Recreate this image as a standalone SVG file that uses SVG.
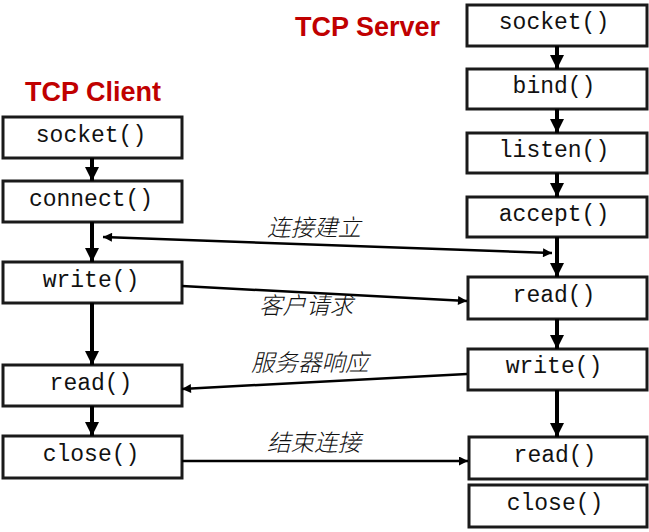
<svg xmlns="http://www.w3.org/2000/svg" width="649" height="532" viewBox="0 0 649 532">
<style>
.box rect{fill:#fff;stroke:#1a1a1a;stroke-width:3}
.box text{font-family:"Liberation Mono","Courier New",monospace;font-size:23px;fill:#111;text-anchor:middle}
.title{font-family:"Liberation Sans",Arial,sans-serif;font-weight:bold;font-size:27px;fill:#c00000}
.lbl{font-family:"Liberation Serif","Noto Sans CJK SC",sans-serif;font-style:italic;font-size:23.5px;font-weight:300;fill:#111}
.v{stroke:#000;stroke-width:4;fill:none;marker-end:url(#big)}
.h{stroke:#000;stroke-width:2.5;fill:none;marker-end:url(#small)}
</style>
<defs>
<marker id="big" viewBox="0 0 10 10" refX="10" refY="5" markerWidth="3.5" markerHeight="3.5" orient="auto" markerUnits="strokeWidth"><path d="M0,0L10,5L0,10z" fill="#000"/></marker>
<marker id="small" viewBox="0 0 10 10" refX="10" refY="5" markerWidth="4.5" markerHeight="3.6" orient="auto" markerUnits="strokeWidth"><path d="M0,0L10,5L0,10z" fill="#000"/></marker>
<marker id="smallStart" viewBox="0 0 10 10" refX="0" refY="5" markerWidth="4.5" markerHeight="3.6" orient="auto" markerUnits="strokeWidth"><path d="M10,0L0,5L10,10z" fill="#000"/></marker>
</defs>
<text class="title" x="295" y="36">TCP Server</text>
<text class="title" x="25" y="101">TCP Client</text>

<g id="c-socket" class="box"><rect x="3" y="117" width="179" height="41"/><text x="91" y="142">socket()</text></g>
<g id="c-connect" class="box"><rect x="3" y="181" width="179" height="41"/><text x="91" y="206">connect()</text></g>
<g id="c-write" class="box"><rect x="3" y="262" width="179" height="41"/><text x="91" y="287">write()</text></g>
<g id="c-read" class="box"><rect x="3" y="365" width="179" height="41"/><text x="91" y="390">read()</text></g>
<g id="c-close" class="box"><rect x="3" y="436" width="179" height="42"/><text x="91" y="461">close()</text></g>

<g id="s-socket" class="box"><rect x="467" y="5" width="180" height="41"/><text x="554" y="29">socket()</text></g>
<g id="s-bind" class="box"><rect x="467" y="69" width="180" height="40"/><text x="554" y="93">bind()</text></g>
<g id="s-listen" class="box"><rect x="467" y="133" width="180" height="40"/><text x="554" y="157">listen()</text></g>
<g id="s-accept" class="box"><rect x="467" y="197" width="180" height="40"/><text x="554" y="221">accept()</text></g>
<g id="s-read" class="box"><rect x="468" y="277" width="179" height="42"/><text x="554" y="302">read()</text></g>
<g id="s-write" class="box"><rect x="468" y="349" width="179" height="41"/><text x="554" y="373">write()</text></g>
<g id="s-read2" class="box"><rect x="469" y="437" width="178" height="42"/><text x="555" y="462">read()</text></g>
<g id="s-close" class="box"><rect x="469" y="485" width="178" height="42"/><text x="555" y="510">close()</text></g>

<g id="connectors">
<line class="v" x1="92" y1="158" x2="92" y2="181"/>
<line class="v" x1="92" y1="222" x2="92" y2="262"/>
<line class="v" x1="92" y1="303" x2="92" y2="365"/>
<line class="v" x1="92" y1="406" x2="92" y2="436"/>
<line class="v" x1="557" y1="46" x2="557" y2="69"/>
<line class="v" x1="557" y1="109" x2="557" y2="133"/>
<line class="v" x1="557" y1="173" x2="557" y2="197"/>
<line class="v" x1="557" y1="237" x2="557" y2="277"/>
<line class="v" x1="557" y1="319" x2="557" y2="349"/>
<line class="v" x1="557" y1="390" x2="557" y2="437"/>
<line class="h" x1="103" y1="237" x2="552" y2="253" marker-start="url(#smallStart)"/>
<line class="h" x1="182" y1="286" x2="467" y2="301"/>
<line class="h" x1="467" y1="374" x2="182" y2="389"/>
<line class="h" x1="182" y1="461" x2="468" y2="461"/>
</g>

<text class="lbl" x="267" y="236">连接建立</text>
<text class="lbl" x="259" y="314">客户请求</text>
<text class="lbl" x="251" y="371">服务器响应</text>
<text class="lbl" x="267" y="451">结束连接</text>
</svg>
